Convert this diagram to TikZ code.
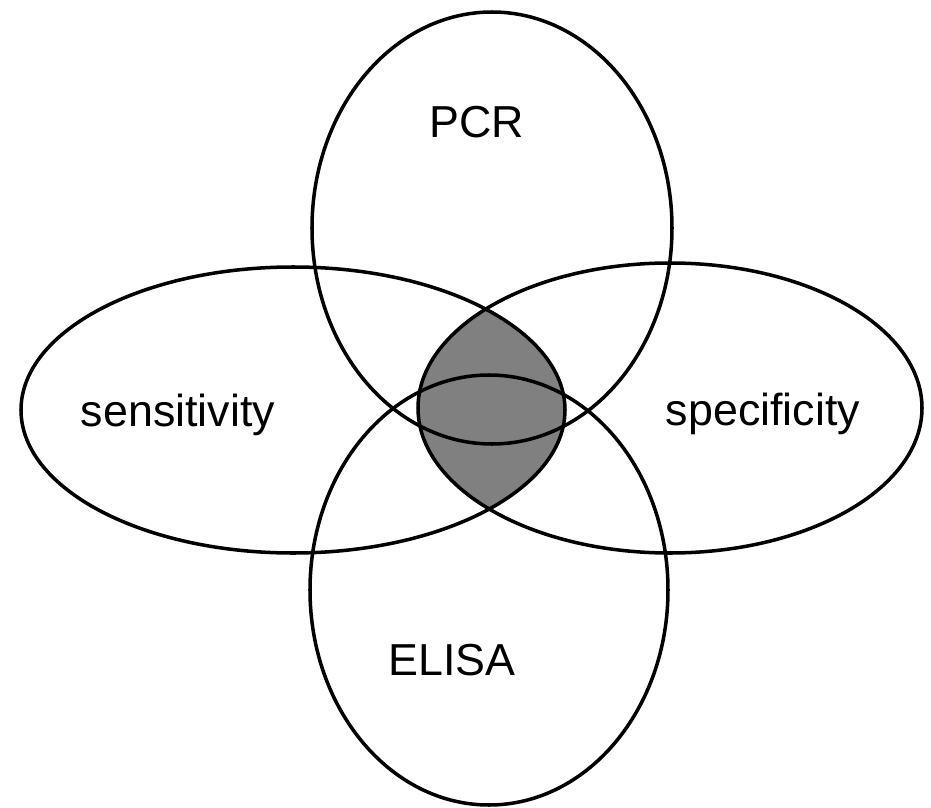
\documentclass[tikz,border=0pt]{standalone}
\usepackage{fontspec}
\setmainfont{Liberation Sans}

\tikzset{
  setline/.style={line width=2pt},
  setlabel/.style={font=\fontsize{25.5}{30}\selectfont, anchor=base, inner sep=0pt}
}

\begin{document}
\begin{tikzpicture}[x=0.02cm, y=-0.02cm]
  \useasboundingbox (0,0) rectangle (931,808);

  % shared part of sensitivity and specificity
  \begin{scope}
    \clip (293,410) ellipse [x radius=272, y radius=143];
    \fill[gray] (670,408) ellipse [x radius=252, y radius=145];
  \end{scope}

  \draw[setline] (492,228) ellipse [x radius=180, y radius=216]; % PCR
  \draw[setline] (489,590) ellipse [x radius=179, y radius=215]; % ELISA
  \draw[setline] (293,410) ellipse [x radius=272, y radius=143]; % sensitivity
  \draw[setline] (670,408) ellipse [x radius=252, y radius=145]; % specificity

  \node[setlabel] (pcr)   at (477,137) {PCR};
  \node[setlabel] (elisa) at (452,675) {ELISA};
  \node[setlabel] (sens)  at (178,426) {sensitivity};
  \node[setlabel] (spec)  at (763,425) {specificity};

\end{tikzpicture}
\end{document}
